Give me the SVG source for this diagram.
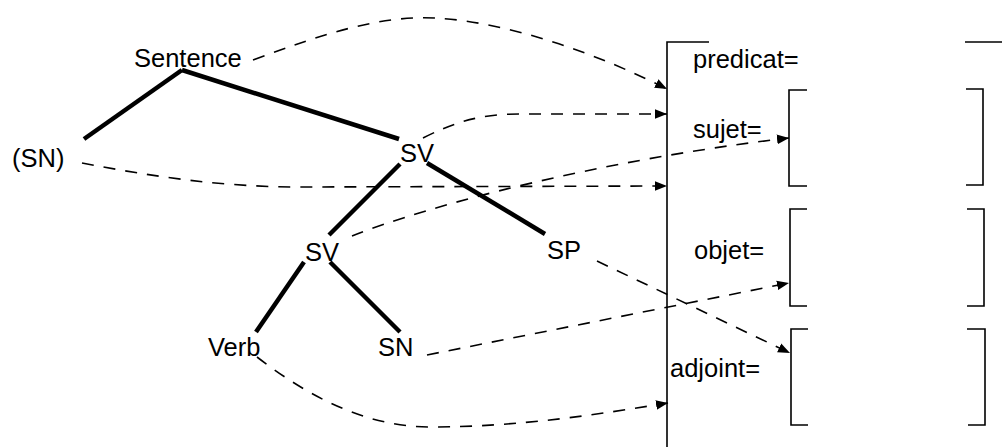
<svg xmlns="http://www.w3.org/2000/svg" width="1002" height="447" viewBox="0 0 1002 447">
<defs>
<style>
text{font-family:"Liberation Sans",Arial,sans-serif;font-size:25.5px;fill:#000}
.tree{stroke:#000;stroke-width:4.5;fill:none;stroke-linecap:butt}
.dash{stroke:#000;stroke-width:1.6;fill:none;stroke-dasharray:12 10}
.brk{stroke:#000;stroke-width:1.6;fill:none}
</style>
<marker id="ah" viewBox="0 0 10 10" refX="10" refY="5" markerWidth="12" markerHeight="12" markerUnits="userSpaceOnUse" orient="auto">
<path d="M0,1 L10,5 L0,9 Z" fill="#000"/>
</marker>
</defs>
<rect width="1002" height="447" fill="#fff"/>
<g id="tree-edges">
<path class="tree" d="M182,70 L84,139"/>
<path class="tree" d="M182,70 L399,139"/>
<path class="tree" d="M400,164 L329,235"/>
<path class="tree" d="M427,163 L545,234"/>
<path class="tree" d="M304,262 L256,332"/>
<path class="tree" d="M330,262 L400,332"/>
</g>
<g id="node-sentence"><text x="134" y="67">Sentence</text></g>
<g id="node-sn-opt"><text x="12" y="167">(SN)</text></g>
<g id="node-sv1"><text x="400" y="162">SV</text></g>
<g id="node-sv2"><text x="305" y="261">SV</text></g>
<g id="node-sp"><text x="547" y="259">SP</text></g>
<g id="node-verb"><text x="208" y="356">Verb</text></g>
<g id="node-sn"><text x="378" y="356">SN</text></g>
<g id="frame">
<path class="brk" d="M709,42 L667,42 L667,447"/>
<path class="brk" d="M965,42 L1002,42"/>
<text x="693" y="68">predicat=</text>
<text x="693" y="138">sujet=</text>
<text x="694" y="259">objet=</text>
<text x="670" y="377">adjoint=</text>
</g>
<g id="box-sujet">
<path class="brk" d="M807,90 L789,90 L789,186 L807,186"/>
<path class="brk" d="M966,89 L983,89 L983,185 L966,185"/>
</g>
<g id="box-objet">
<path class="brk" d="M807,209 L790,209 L790,306 L807,306"/>
<path class="brk" d="M967,209 L984,209 L984,306 L967,306"/>
</g>
<g id="box-adjoint">
<path class="brk" d="M808,329 L791,329 L791,425 L808,425"/>
<path class="brk" d="M967,329 L985,329 L985,425 L968,425"/>
</g>
<g id="connectors">
<path class="dash" marker-end="url(#ah)" d="M253,60 C320,35 380,15 435,18 C510,22 600,55 667,89"/>
<path class="dash" marker-end="url(#ah)" d="M423,138 C455,122 480,114 520,114 L667,114"/>
<path class="dash" marker-end="url(#ah)" d="M82,163 C150,176 220,187 300,187 L667,186"/>
<path class="dash" marker-end="url(#ah)" d="M352,236 C430,205 600,160 789,138"/>
<path class="dash" marker-end="url(#ah)" d="M597,261 L790,353"/>
<path class="dash" marker-end="url(#ah)" d="M427,355 L789,283"/>
<path class="dash" marker-end="url(#ah)" d="M257,357 C300,390 360,427 430,427 C520,427 600,414 668,403"/>
</g>
</svg>
